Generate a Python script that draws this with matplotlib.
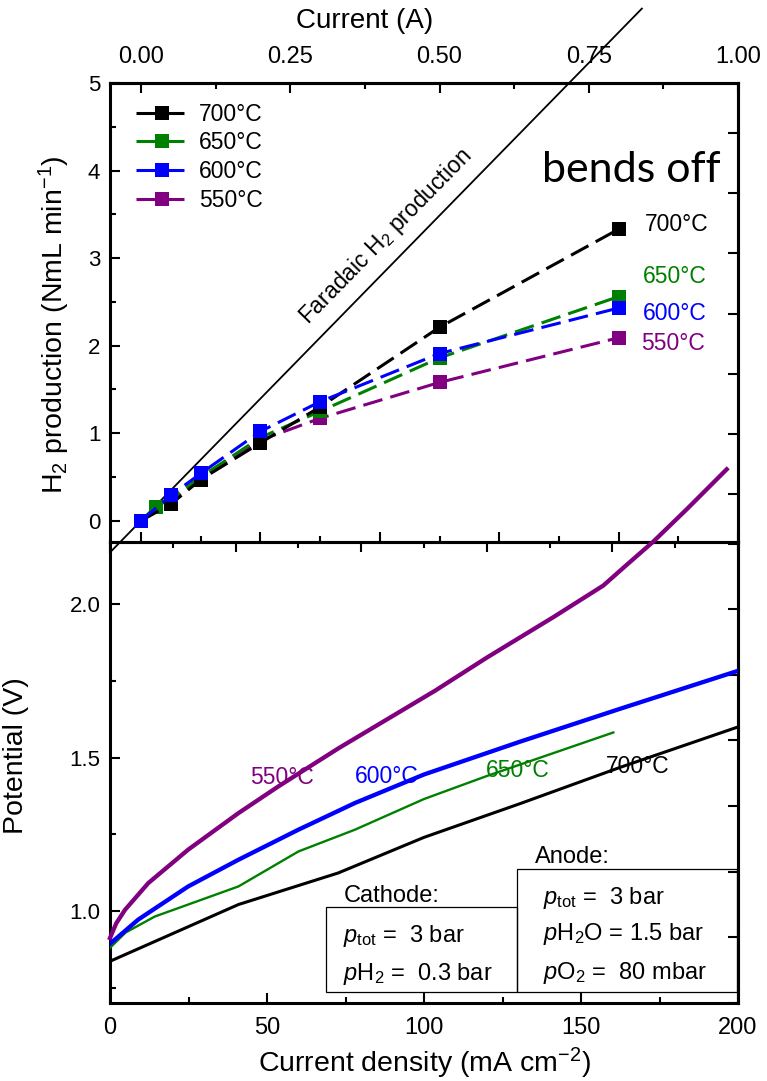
import matplotlib
matplotlib.use('Agg')
import matplotlib.pyplot as plt
from matplotlib.ticker import MultipleLocator, NullFormatter, FormatStrFormatter
from matplotlib.patches import Rectangle

# ---- top panel: H2 production vs current (A) ----
current_A = [0, 0.05, 0.1, 0.2, 0.3, 0.5, 0.8]
current_650 = [0, 0.025, 0.05, 0.1, 0.2, 0.3, 0.5, 0.8]
h2_700 = [0, 0.19, 0.47, 0.89, 1.30, 2.21, 3.33]
h2_650 = [0, 0.16, 0.25, 0.50, 0.95, 1.25, 1.86, 2.56]
h2_600 = [0, 0.29, 0.54, 1.02, 1.36, 1.91, 2.43]
h2_550 = [0, 0.22, 0.50, 0.92, 1.17, 1.58, 2.09]
faradaic_I = [-0.052, 0.839]
faradaic_H = [-0.362, 5.85]

# ---- bottom panel: potential vs current density (mA cm-2) ----
j_550 = [0, 2, 4.8, 12.2, 24.9, 40.9, 53.6, 72.7, 88.6, 103.5, 120, 141.2, 157.1, 164.5, 173, 183.7, 196.4]
v_550 = [0.912, 0.96, 1.004, 1.091, 1.200, 1.319, 1.406, 1.530, 1.627, 1.718, 1.826, 1.958, 2.061, 2.128, 2.204, 2.31, 2.44]
j_600 = [0, 9, 24.9, 40.9, 60, 78, 100, 130.6, 162.4, 200]
v_600 = [0.893, 0.972, 1.080, 1.167, 1.265, 1.352, 1.445, 1.552, 1.659, 1.783]
j_650 = [0, 5, 14.3, 40.9, 60, 78, 100, 120, 160.3]
v_650 = [0.880, 0.93, 0.982, 1.080, 1.194, 1.265, 1.365, 1.440, 1.582]
j_700 = [0, 40.9, 72.7, 100, 130.6, 162.4, 200]
v_700 = [0.836, 1.021, 1.124, 1.240, 1.350, 1.468, 1.600]

temps = ['700°C', '650°C', '600°C', '550°C']
colors = ['black', 'green', 'blue', 'purple']

plt.rcParams['font.family'] = ['Liberation Sans', 'DejaVu Sans']
plt.rcParams['mathtext.fontset'] = 'custom'
plt.rcParams['mathtext.rm'] = 'Liberation Sans'
plt.rcParams['mathtext.it'] = 'Liberation Sans:italic'

fig = plt.figure(figsize=(7.67, 10.81), dpi=100)
L, W = 110/767, 628/767
ax1 = fig.add_axes([L, 1 - 542/1081, W, 459/1081])
ax2 = fig.add_axes([L, 1 - 1003.3/1081, W, 461.3/1081])
ax2.set_facecolor('none')

spw = 2.2
for ax in (ax1, ax2):
    for s in ax.spines.values():
        s.set_linewidth(spw)

def style_ticks(axis_obj, **kw):
    axis_obj.tick_params(which='major', direction='in', length=7.5, width=1.5, **kw)
    axis_obj.tick_params(which='minor', direction='in', length=4.3, width=1.5, **kw)

# ---------- top panel ----------
dash = (0, (6.5, 2.7))
ms = 9.5
ax1.plot(faradaic_I, faradaic_H, color='black', lw=1.3, clip_on=False, zorder=2)
h550, = ax1.plot(current_A, h2_550, ls=dash, lw=2.2, color='purple', marker='s', ms=ms, mew=0, zorder=3)
h650, = ax1.plot(current_650, h2_650, ls=dash, lw=2.2, color='green', marker='s', ms=ms, mew=0, zorder=4)
h700, = ax1.plot(current_A, h2_700, ls=dash, lw=2.2, color='black', marker='s', ms=ms, mew=0, zorder=5)
h600, = ax1.plot(current_A, h2_600, ls=dash, lw=2.2, color='blue', marker='s', ms=ms, mew=0, zorder=6)

ax1.set_xlim(-0.052, 1.0)
ax1.set_ylim(-0.243, 5)
ax1.xaxis.set_major_locator(MultipleLocator(0.2))
ax1.xaxis.set_minor_locator(MultipleLocator(0.1))
ax1.yaxis.set_major_locator(MultipleLocator(1))
ax1.yaxis.set_minor_locator(MultipleLocator(0.5))
style_ticks(ax1, bottom=True, top=False, left=True, right=False,
            labelbottom=False, labelleft=True, labelsize=16, pad=7)

top = ax1.secondary_xaxis('top')
top.xaxis.set_major_locator(MultipleLocator(0.25))
top.xaxis.set_minor_locator(MultipleLocator(0.125))
top.xaxis.set_major_formatter(FormatStrFormatter('%.2f'))
style_ticks(top, labelsize=17, pad=11)
top.spines['top'].set_linewidth(spw)
ax1.text(0.406, 1.135, 'Current (A)', fontsize=20, ha='center', va='center', transform=ax1.transAxes)

rgt = ax1.secondary_yaxis('right', functions=(lambda h: (h - 0.30) / 0.689, lambda t: t * 0.689 + 0.30))
rgt.yaxis.set_major_locator(MultipleLocator(1))
rgt.yaxis.set_major_formatter(NullFormatter())
rgt.tick_params(direction='in', length=7.5, width=1.5)
rgt.spines['right'].set_linewidth(spw)

ax1.set_ylabel(r'H$_2$ production (NmL min$^{-1}$)', fontsize=20.5)
ax1.yaxis.set_label_coords(-0.0605, 0.473)

leg = ax1.legend([h700, h650, h600, h550], temps, loc='upper left', bbox_to_anchor=(0.041, 0.957),
                 frameon=False, fontsize=16.5, handlelength=2.3, handletextpad=0.45,
                 labelspacing=0.25, borderpad=0, borderaxespad=0, numpoints=1)

ax1.text(0.410, 3.25, r'Faradaic H$_2$ production', fontsize=16.5, rotation=45.6,
         rotation_mode='anchor', ha='center', va='center')
ax1.text(0.970, 3.87, 'bends off', fontsize=31, family=['Lato', 'DejaVu Sans'], ha='right', va='baseline')

right_lab_pos = [(0.844, 3.38), (0.841, 2.79), (0.841, 2.37), (0.837, 2.03)]
for lab, c, (x, y) in zip(temps, colors, right_lab_pos):
    ax1.text(x, y, lab, color=c, fontsize=16.5, ha='left', va='center')

# ---------- bottom panel ----------
ax2.plot(j_700, v_700, color='black', lw=2.2, zorder=3)
ax2.plot(j_650, v_650, color='green', lw=1.7, zorder=3)
ax2.plot(j_600, v_600, color='blue', lw=3.1, zorder=3)
ax2.plot(j_550, v_550, color='purple', lw=3.1, zorder=4, clip_on=False)

ax2.set_xlim(0, 200)
ax2.set_ylim(0.699, 2.203)
ax2.xaxis.set_major_locator(MultipleLocator(50))
ax2.xaxis.set_minor_locator(MultipleLocator(25))
ax2.yaxis.set_major_locator(MultipleLocator(0.5))
ax2.yaxis.set_minor_locator(MultipleLocator(0.25))
ax2.yaxis.set_major_formatter(FormatStrFormatter('%.1f'))
style_ticks(ax2, bottom=True, top=False, left=True, right=False, labelsize=16, pad=7)
ax2.tick_params(axis='x', labelsize=17, pad=10)

top2 = ax2.secondary_xaxis('top')
top2.xaxis.set_major_locator(MultipleLocator(40))
top2.xaxis.set_minor_locator(MultipleLocator(20))
top2.xaxis.set_major_formatter(NullFormatter())
style_ticks(top2)

rgt2 = ax2.secondary_yaxis('right', functions=(lambda v: (v - 0.915) / 0.2137, lambda t: t * 0.2137 + 0.915))
rgt2.yaxis.set_major_locator(MultipleLocator(1))
rgt2.yaxis.set_major_formatter(NullFormatter())
rgt2.tick_params(direction='in', length=7.5, width=1.5)
rgt2.spines['right'].set_linewidth(spw)

ax2.set_xlabel(r'Current density (mA cm$^{-2}$)', fontsize=20.5, labelpad=5)
ax2.set_ylabel('Potential (V)', fontsize=20.5)
ax2.yaxis.set_label_coords(-0.129, 0.536)

curve_lab_pos = [(168.2, 1.471), (129.8, 1.457), (88.1, 1.437), (54.7, 1.434)]
for lab, c, (x, y) in zip(temps, colors, curve_lab_pos):
    ax2.text(x, y, lab, color=c, fontsize=16.5, ha='center', va='center', zorder=5)

# condition boxes
ax2.add_patch(Rectangle((0.344, 0.025), 0.3046, 0.1844, transform=ax2.transAxes,
                        fill=False, lw=0.9, ec='black', zorder=2))
ax2.add_patch(Rectangle((0.6486, 0.025), 0.3494, 0.2655, transform=ax2.transAxes,
                        fill=False, lw=0.9, ec='black', zorder=2))
fs = 17
ax2.text(0.3715, 0.2202, 'Cathode:', fontsize=fs, transform=ax2.transAxes, va='baseline')
ax2.text(0.3715, 0.1335, r'$p_{\rm tot}$ =  3 bar', fontsize=fs, transform=ax2.transAxes, va='baseline')
ax2.text(0.3715, 0.0505, r'$p$H$_2$ =  0.3 bar', fontsize=fs, transform=ax2.transAxes, va='baseline')
ax2.text(0.6768, 0.3048, 'Anode:', fontsize=fs, transform=ax2.transAxes, va='baseline')
ax2.text(0.690, 0.2153, r'$p_{\rm tot}$ =  3 bar', fontsize=fs, transform=ax2.transAxes, va='baseline')
ax2.text(0.690, 0.1373, r'$p$H$_2$O = 1.5 bar', fontsize=fs, transform=ax2.transAxes, va='baseline')
ax2.text(0.690, 0.0520, r'$p$O$_2$ =  80 mbar', fontsize=fs, transform=ax2.transAxes, va='baseline')

fig.savefig('out.png', dpi=100)
